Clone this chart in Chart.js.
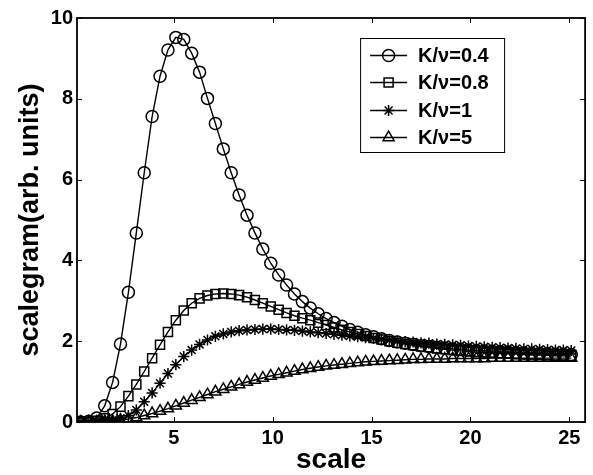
<!DOCTYPE html>
<html><head><meta charset="utf-8">
<script src="https://cdn.jsdelivr.net/npm/chart.js@4.4.0/dist/chart.umd.min.js"></script>
<style>html,body{margin:0;padding:0;background:#fff}canvas{display:block}</style>
</head><body>
<canvas id="c" width="593" height="475"></canvas>
<script>
// ---- data ----
const scaleValues = [
  0.3,0.7,1.1,1.5,1.9,2.3,2.7,3.1,3.5,3.9,
  4.3,4.7,5.1,5.5,5.9,6.3,6.7,7.1,7.5,7.9,
  8.3,8.7,9.1,9.5,9.9,10.3,10.7,11.1,11.5,11.9,
  12.3,12.7,13.1,13.5,13.9,14.3,14.7,15.1,15.5,15.9,
  16.3,16.7,17.1,17.5,17.9,18.3,18.7,19.1,19.5,19.9,
  20.3,20.7,21.1,21.5,21.9,22.3,22.7,23.1,23.5,23.9,
  24.3,24.7,25.1];
const kv04 = [
  0.00,0.02,0.10,0.40,0.98,1.93,3.21,4.68,6.17,7.56,
  8.56,9.21,9.52,9.47,9.13,8.66,8.01,7.39,6.76,6.17,
  5.62,5.12,4.68,4.28,3.93,3.64,3.39,3.17,2.98,2.82,
  2.68,2.56,2.46,2.37,2.29,2.22,2.16,2.11,2.06,2.02,
  1.98,1.95,1.92,1.89,1.87,1.85,1.83,1.81,1.80,1.78,
  1.77,1.76,1.75,1.74,1.73,1.72,1.71,1.70,1.70,1.69,
  1.68,1.68,1.67];
const kv08 = [
  0.00,0.01,0.03,0.09,0.20,0.38,0.64,0.93,1.25,1.58,
  1.91,2.23,2.52,2.76,2.94,3.06,3.13,3.17,3.18,3.17,
  3.14,3.09,3.02,2.94,2.86,2.78,2.70,2.63,2.57,2.52,
  2.46,2.40,2.34,2.28,2.23,2.18,2.13,2.08,2.04,2.00,
  1.96,1.93,1.90,1.87,1.85,1.82,1.80,1.78,1.76,1.75,
  1.73,1.72,1.71,1.70,1.69,1.68,1.67,1.66,1.66,1.65,
  1.64,1.64,1.63];
const kv1 = [
  0.00,0.00,0.01,0.02,0.05,0.09,0.16,0.30,0.50,0.72,
  0.96,1.20,1.42,1.62,1.78,1.92,2.03,2.12,2.18,2.23,
  2.26,2.28,2.29,2.30,2.30,2.29,2.28,2.27,2.25,2.23,
  2.21,2.19,2.17,2.15,2.13,2.11,2.09,2.07,2.05,2.03,
  2.01,1.99,1.98,1.96,1.95,1.93,1.92,1.91,1.90,1.88,
  1.87,1.86,1.85,1.84,1.83,1.82,1.81,1.81,1.80,1.79,
  1.78,1.78,1.77];
const kv5 = [
  0.00,0.00,0.00,0.01,0.02,0.04,0.07,0.11,0.16,0.21,
  0.27,0.33,0.40,0.47,0.54,0.61,0.68,0.75,0.81,0.87,
  0.93,0.99,1.04,1.09,1.14,1.18,1.22,1.26,1.30,1.33,
  1.36,1.39,1.41,1.43,1.45,1.47,1.49,1.50,1.51,1.52,
  1.53,1.54,1.55,1.55,1.56,1.56,1.56,1.57,1.57,1.57,
  1.57,1.57,1.58,1.58,1.58,1.58,1.58,1.58,1.58,1.58,
  1.58,1.58,1.58];
const seriesLabels = ['K/\u03bd=0.4','K/\u03bd=0.8','K/\u03bd=1','K/\u03bd=5'];
const xTickValues = [5,10,15,20,25];
const yTickValues = [0,2,4,6,8,10];

// ---- styling ----
const FONT = '"Liberation Sans", Arial, Helvetica, sans-serif';
Chart.defaults.font.family = FONT;
Chart.defaults.font.weight = 'bold';
Chart.defaults.color = '#000';

const styles = [
  {pointStyle:'circle', radius:6.0},
  {pointStyle:'rect', radius:6.4},
  {pointStyle:'star', radius:5.6},
  {pointStyle:'triangle', radius:6.4}
];
const allSeries = [kv04, kv08, kv1, kv5];

const datasets = allSeries.map((vals, i) => ({
  label: seriesLabels[i],
  data: scaleValues.map((s, j) => ({x: s, y: vals[j]})),
  borderColor: '#000',
  borderWidth: 1.4,
  pointStyle: styles[i].pointStyle,
  pointRadius: styles[i].radius,
  pointBorderColor: '#000',
  pointBackgroundColor: 'rgba(0,0,0,0)',
  pointBorderWidth: 1.5,
  tension: 0,
  fill: false
}));

const framePlugin = {
  id: 'frame',
  afterDatasetsDraw(chart) {
    const {ctx, chartArea: a, scales: {x, y}} = chart;
    ctx.save();
    ctx.strokeStyle = '#000';
    ctx.lineWidth = 1.8;
    ctx.strokeRect(a.left, a.top, a.right - a.left, a.bottom - a.top);
    ctx.lineWidth = 1;
    const L = 5;
    ctx.beginPath();
    xTickValues.forEach(v => {
      const p = Math.round(x.getPixelForValue(v)) + 0.5;
      ctx.moveTo(p, a.bottom); ctx.lineTo(p, a.bottom - L);
      ctx.moveTo(p, a.top); ctx.lineTo(p, a.top + L);
    });
    yTickValues.forEach(v => {
      const p = Math.round(y.getPixelForValue(v)) + 0.5;
      ctx.moveTo(a.left, p); ctx.lineTo(a.left + L, p);
      ctx.moveTo(a.right, p); ctx.lineTo(a.right - L, p);
    });
    ctx.stroke();

    // legend box
    const box = {left: a.right - 225, top: a.top + 20, w: 144, h: 114};
    ctx.fillStyle = '#fff';
    ctx.fillRect(box.left, box.top, box.w, box.h);
    ctx.lineWidth = 1;
    ctx.strokeRect(box.left + 0.5, box.top + 0.5, box.w, box.h);
    const rowY0 = box.top + 17, rowStep = 27.3;
    ctx.font = 'bold 20px ' + FONT;
    ctx.textBaseline = 'middle';
    ctx.textAlign = 'left';
    chart.data.datasets.forEach((ds, i) => {
      const ry = Math.round(rowY0 + i * rowStep) + 0.5;
      ctx.strokeStyle = '#000';
      ctx.lineWidth = 1.4;
      ctx.beginPath();
      ctx.moveTo(box.left + 10, ry); ctx.lineTo(box.left + 47, ry);
      ctx.stroke();
      ctx.lineWidth = 1.5;
      ctx.fillStyle = 'rgba(0,0,0,0)';
      Chart.helpers.drawPoint(ctx, {pointStyle: ds.pointStyle, radius: ds.pointRadius, borderWidth: 1.5, rotation: 0}, box.left + 28.5, ry);
      ctx.fillStyle = '#000';
      ctx.fillText(ds.label, box.left + 58, ry + 1);
    });
    ctx.restore();
  }
};

new Chart(document.getElementById('c'), {
  type: 'line',
  data: {datasets},
  options: {
    responsive: false,
    animation: false,
    events: [],
    layout: {padding: {top: 18, right: 5, left: 0, bottom: 0}},
    plugins: {legend: {display: false}, tooltip: {enabled: false}},
    scales: {
      x: {
        type: 'linear', min: 0.1, max: 25.8,
        grid: {display: false, drawTicks: false},
        border: {display: false},
        afterBuildTicks: s => { s.ticks = xTickValues.map(v => ({value: v})); },
        afterFit: s => { s.height = 53; },
        ticks: {font: {size: 20, weight: 'bold'}, padding: 4, maxRotation: 0, autoSkip: false, color: '#000'},
        title: {display: true, text: 'scale', font: {size: 28, weight: 'bold', lineHeight: 1}, padding: {top: 0, bottom: 1}, color: '#000'}
      },
      y: {
        min: 0, max: 10,
        grid: {display: false, drawTicks: false},
        border: {display: false},
        afterBuildTicks: s => { s.ticks = yTickValues.map(v => ({value: v})); },
        afterFit: s => { s.width = 77; },
        ticks: {font: {size: 20, weight: 'bold'}, padding: 4, color: '#000'},
        title: {display: true, text: 'scalegram(arb. units)', font: {size: 27, weight: 'bold', lineHeight: 1}, padding: {top: 17, bottom: 0}, color: '#000'}
      }
    }
  },
  plugins: [framePlugin]
});
</script>
</body></html>
